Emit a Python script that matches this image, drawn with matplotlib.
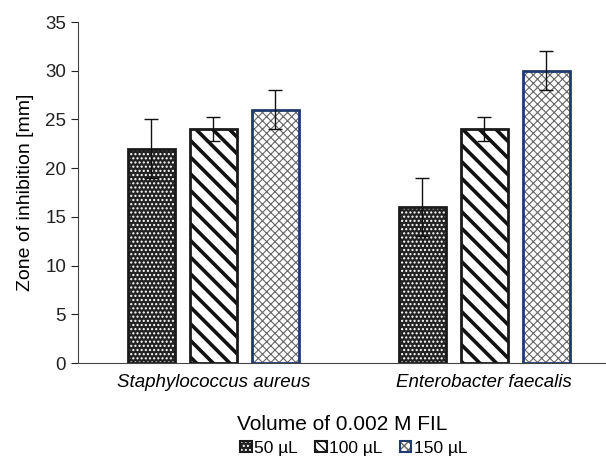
import matplotlib.pyplot as plt
from matplotlib.patches import Patch
import numpy as np

plt.rcParams['font.family'] = ['Liberation Sans', 'DejaVu Sans']

categories = ["Staphylococcus aureus", "Enterobacter faecalis"]
series_labels = ["50 µL", "100 µL", "150 µL"]
values = [
    [22, 16],   # 50 uL
    [24, 24],   # 100 uL
    [26, 30],   # 150 uL
]
errors = [
    [3, 3],
    [1.2, 1.2],
    [2, 2],
]

# style per series: face, hatch, legend hatch, hatch colour, hatch lw, outline colour
styles = [
    ("#222222", "....", "....", "white", 1.0, "#1a1a1a"),
    ("white", "\\\\", "\\\\\\\\", "#111111", 2.6, "#1a1a1a"),
    ("white", "xxxx", "xxxx", "#666666", 0.8, "#1f3a6e"),
]

fig = plt.figure(figsize=(6.06, 4.68), dpi=100)
ax = fig.add_axes([78 / 606, 1 - 363 / 468, 1 - 78 / 606, (363 - 22) / 468])

x = np.arange(len(categories))
width = 0.173
offsets = [-0.229, 0, 0.229]

handles = []
for i in range(3):
    face, hatch, leg_hatch, hcol, hlw, ecol = styles[i]
    with plt.rc_context({"hatch.linewidth": hlw}):
        ax.bar(x + offsets[i], values[i], width, color=face, edgecolor=hcol,
               hatch=hatch, linewidth=0, zorder=2)
    with plt.rc_context({"hatch.linewidth": min(hlw, 1.5)}):
        hp = Patch(facecolor=face, edgecolor=hcol, hatch=leg_hatch, linewidth=0)
    ax.bar(x + offsets[i], values[i], width, fill=False, edgecolor=ecol,
           linewidth=2, zorder=3)
    op = Patch(fill=False, edgecolor=ecol, linewidth=1.5)
    ax.errorbar(x + offsets[i], values[i], yerr=errors[i], fmt="none",
                ecolor="#111111", elinewidth=1, capsize=5, capthick=1, zorder=4)
    handles.append((hp, op))

ax.set_xlim(-0.5, 1.45)
ax.set_ylim(0, 35)
ax.set_yticks(range(0, 36, 5))
ax.set_xticks(x)
ax.set_xticklabels(categories, fontstyle="italic", fontsize=13.5)
ax.tick_params(axis="x", length=0, pad=8)
ax.tick_params(axis="y", labelsize=13.5, length=5, direction="out", colors="#222222")
ax.spines["top"].set_visible(False)
ax.spines["right"].set_visible(False)
ax.spines["left"].set_color("#444444")
ax.spines["bottom"].set_color("#444444")

ax.set_ylabel("Zone of inhibition [mm]", fontsize=14, labelpad=8)
ax.set_xlabel("Volume of 0.002 M FIL", fontsize=15, labelpad=17)

fig.legend(handles, series_labels, loc="center", bbox_to_anchor=(354 / 606, 1 - 448 / 468),
           ncol=3, frameon=False, fontsize=12.5, handlelength=0.65, handleheight=0.65,
           handletextpad=0.15, columnspacing=1.0)

fig.savefig("out.png", dpi=100)
